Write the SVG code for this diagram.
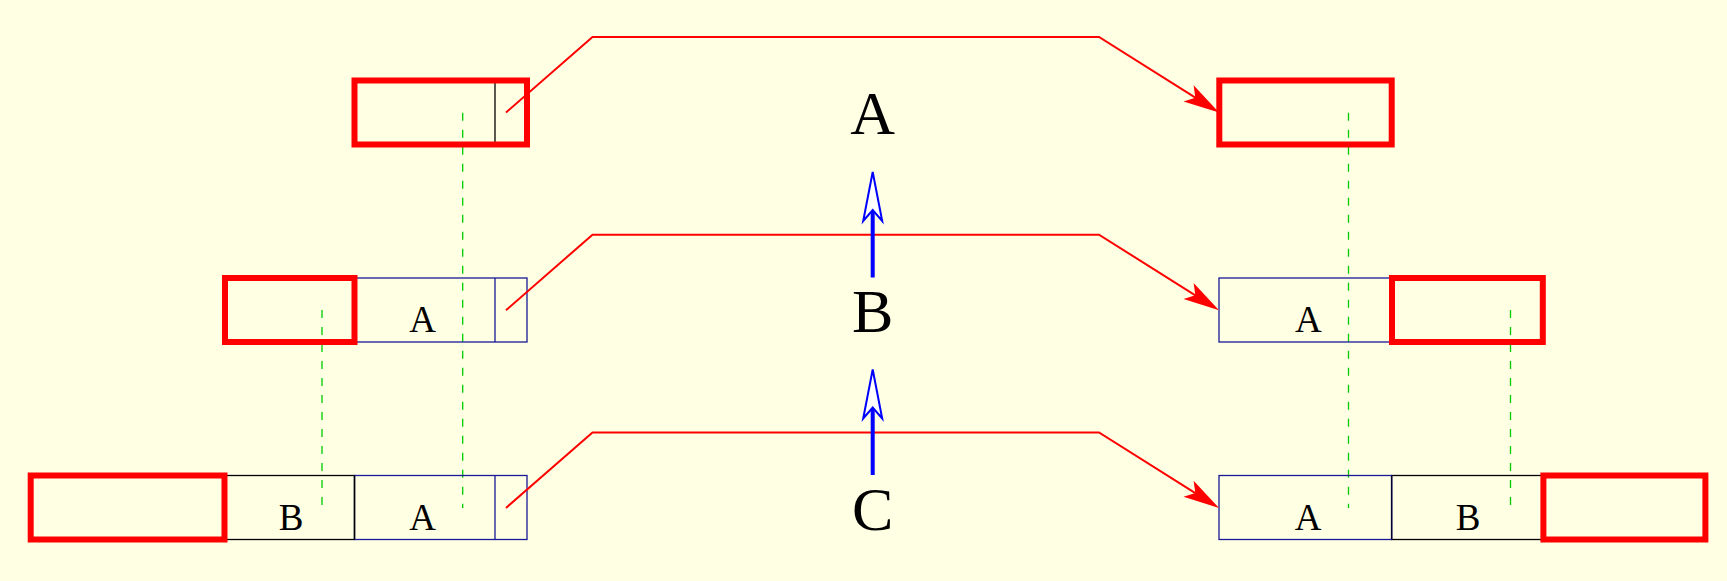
<svg xmlns="http://www.w3.org/2000/svg" width="1727" height="581" viewBox="0 0 1727 581">
<style>
.cellb{fill:none;stroke:#1a1a99;stroke-width:1.3}
.cellk{fill:none;stroke:#000;stroke-width:1.3}
.hl{fill:none;stroke:#ff0000;stroke-width:6}
.guide{fill:none;stroke:#00cc00;stroke-width:1.3;stroke-dasharray:8 9}
.move{fill:none;stroke:#ff0000;stroke-width:2}
.step{fill:none;stroke:#0000ff;stroke-width:4}
.small{font-family:"Liberation Serif",serif;font-size:37px;text-anchor:middle;fill:#000}
.big{font-family:"Liberation Serif",serif;font-size:62px;text-anchor:middle;fill:#000}
</style>
<defs>
<marker id="redhead" markerUnits="userSpaceOnUse" orient="auto" overflow="visible" markerWidth="1" markerHeight="1" refX="0" refY="0">
<path d="M20,0 L-16,-9.5 L-8,0 L-16,9.5 Z" fill="#ff0000"/>
</marker>
<marker id="bluehead" markerUnits="userSpaceOnUse" orient="auto" overflow="visible" markerWidth="1" markerHeight="1" refX="0" refY="0">
<path d="M38,0 L-11,-9.5 L0,0 L-11,9.5 Z" fill="#ffffff" stroke="#0000ff" stroke-width="2"/>
</marker>
</defs>
<rect x="0" y="0" width="1727" height="581" fill="#ffffe3"/>

<g id="guides">
<line class="guide" x1="462.7" y1="112.7" x2="462.7" y2="508"/>
<line class="guide" x1="322" y1="310" x2="322" y2="508"/>
<line class="guide" x1="1348.5" y1="112.7" x2="1348.5" y2="508"/>
<line class="guide" x1="1510.5" y1="310" x2="1510.5" y2="508"/>
</g>

<g id="left-top">
<line class="cellk" x1="495" y1="80.5" x2="495" y2="144.5"/>
<rect class="hl" x="354.5" y="80.5" width="172.5" height="64"/>
</g>

<g id="left-middle">
<rect class="cellb" x="354.5" y="278" width="172.5" height="64"/>
<line class="cellb" x1="495" y1="278" x2="495" y2="342"/>
<text class="small" x="422.7" y="331.5">A</text>
<rect class="hl" x="225" y="278" width="129.5" height="64"/>
</g>

<g id="left-bottom">
<rect class="cellk" x="224.5" y="475.5" width="130" height="64"/>
<rect class="cellb" x="354.5" y="475.5" width="172.5" height="64"/>
<line class="cellb" x1="495" y1="475.5" x2="495" y2="539.5"/>
<line class="cellk" x1="354.5" y1="475.5" x2="354.5" y2="539.5"/>
<text class="small" x="291" y="529.5">B</text>
<text class="small" x="422.5" y="529.5">A</text>
<rect class="hl" x="30.7" y="475.5" width="193.8" height="64"/>
</g>

<g id="right-top">
<rect class="hl" x="1219.3" y="80.5" width="172.4" height="64"/>
</g>

<g id="right-middle">
<rect class="cellb" x="1219" y="278" width="173" height="64"/>
<text class="small" x="1308.3" y="331.5">A</text>
<rect class="hl" x="1392" y="278" width="150.8" height="64"/>
</g>

<g id="right-bottom">
<rect class="cellk" x="1391.6" y="475.5" width="151.8" height="64"/>
<rect class="cellb" x="1219" y="475.5" width="172.6" height="64"/>
<line x1="1391.6" y1="475.5" x2="1391.6" y2="539.5" stroke="#000033" stroke-width="1.3"/>
<text class="small" x="1308.2" y="529.5">A</text>
<text class="small" x="1468.2" y="529.5">B</text>
<rect class="hl" x="1543.4" y="475.5" width="162" height="64"/>
</g>

<g id="label-A"><text class="big" x="872.7" y="134">A</text></g>
<g id="label-B"><text class="big" x="872.7" y="332">B</text></g>
<g id="label-C"><text class="big" x="872.7" y="530">C</text></g>

<g id="connectors">
<path class="move" d="M506,112.5 L592.5,37 L1099,37 L1202.1,101.9" marker-end="url(#redhead)"/>
<path class="move" d="M506,310.2 L592.5,234.7 L1099,234.7 L1202.1,299.6" marker-end="url(#redhead)"/>
<path class="move" d="M506,507.9 L592.5,432.4 L1099,432.4 L1202.1,497.3" marker-end="url(#redhead)"/>
<line class="step" x1="872.7" y1="277.5" x2="872.7" y2="210" marker-end="url(#bluehead)"/>
<line class="step" x1="872.7" y1="475" x2="872.7" y2="407.5" marker-end="url(#bluehead)"/>
</g>
</svg>
